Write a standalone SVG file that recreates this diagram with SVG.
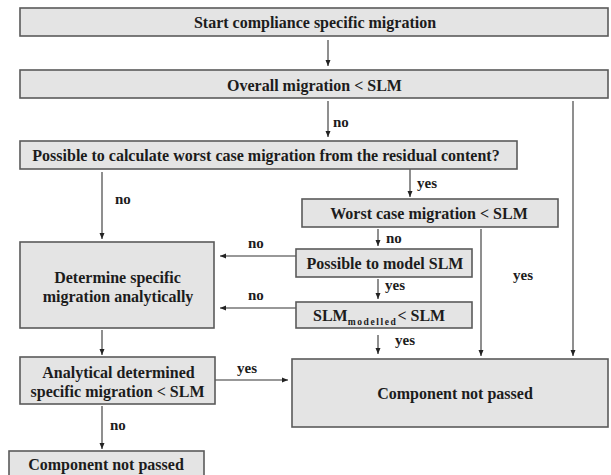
<svg xmlns="http://www.w3.org/2000/svg" width="611" height="475" viewBox="0 0 611 475">
  <style>
    .box { fill: #e4e4e4; stroke: #5a5a5a; stroke-width: 1.6; }
    .t { font-family: 'Liberation Serif', 'DejaVu Serif', serif; font-weight: 700; font-size: 16px; fill: #1c1c1c; text-anchor: middle; }
    .lbl { font-family: 'Liberation Serif', 'DejaVu Serif', serif; font-weight: 700; font-size: 15px; fill: #1c1c1c; }
    .ln { fill: none; stroke: #333; stroke-width: 1.1; }
    .arr { marker-end: url(#head); }
  </style>
  <defs>
    <marker id="head" viewBox="0 0 6 6" refX="6" refY="3" markerWidth="6" markerHeight="6" markerUnits="userSpaceOnUse" orient="auto">
      <path d="M0,0.5 L6,3 L0,5.5 Z" fill="#222"/>
    </marker>
  </defs>
  <rect width="611" height="475" fill="#fff"/>

  <g id="connectors">
    <line class="ln arr" x1="328" y1="40" x2="328" y2="66"/>
    <line class="ln arr" x1="328" y1="101" x2="328" y2="137"/>
    <line class="ln arr" x1="573" y1="101" x2="573" y2="356"/>
    <line class="ln arr" x1="102" y1="172" x2="102" y2="239"/>
    <line class="ln arr" x1="410" y1="169" x2="410" y2="197"/>
    <line class="ln arr" x1="378" y1="229" x2="378" y2="246"/>
    <line class="ln arr" x1="481" y1="229" x2="481" y2="356"/>
    <line class="ln arr" x1="378" y1="279" x2="378" y2="299"/>
    <line class="ln arr" x1="378" y1="335" x2="378" y2="354"/>
    <line class="ln arr" x1="296" y1="256" x2="220" y2="256"/>
    <line class="ln arr" x1="296" y1="308" x2="220" y2="308"/>
    <line class="ln arr" x1="102" y1="330" x2="102" y2="355"/>
    <line class="ln arr" x1="215" y1="380" x2="288" y2="380"/>
    <line class="ln arr" x1="102" y1="406" x2="102" y2="449"/>
    <text class="lbl" x="333" y="127">no</text>
    <text class="lbl" x="115" y="203.5">no</text>
    <text class="lbl" x="417" y="187.5">yes</text>
    <text class="lbl" x="386" y="243">no</text>
    <text class="lbl" x="513" y="280">yes</text>
    <text class="lbl" x="385" y="290">yes</text>
    <text class="lbl" x="395" y="345">yes</text>
    <text class="lbl" x="248" y="248">no</text>
    <text class="lbl" x="248" y="300">no</text>
    <text class="lbl" x="237" y="373">yes</text>
    <text class="lbl" x="110" y="430">no</text>
  </g>

  <g id="start">
    <rect class="box" x="20" y="8" width="588" height="28"/>
    <text class="t" x="315" y="28">Start compliance specific migration</text>
  </g>
  <g id="overall">
    <rect class="box" x="20" y="70" width="588" height="28"/>
    <text class="t" x="314.5" y="90.5">Overall migration &lt; SLM</text>
  </g>
  <g id="worst-case-possible">
    <rect class="box" x="20" y="141" width="497" height="28"/>
    <text class="t" x="266" y="160.5">Possible to calculate worst case migration from the residual content?</text>
  </g>
  <g id="worst-case">
    <rect class="box" x="302" y="199" width="256" height="28"/>
    <text class="t" x="429" y="219">Worst case migration &lt; SLM</text>
  </g>
  <g id="model-possible">
    <rect class="box" x="296" y="249" width="176" height="28"/>
    <text class="t" x="385" y="268.5">Possible to model SLM</text>
  </g>
  <g id="slm-modelled">
    <rect class="box" x="296" y="302" width="176" height="26"/>
    <text class="t" x="313" y="321" style="text-anchor:start">SLM<tspan dy="4" font-size="9.5" letter-spacing="1.6">modelled</tspan><tspan dy="-4">&lt; SLM</tspan></text>
  </g>
  <g id="analytical">
    <rect class="box" x="20" y="242" width="194" height="86"/>
    <text class="t" x="117.5" y="282.5">Determine specific</text>
    <text class="t" x="118" y="301.5">migration analytically</text>
  </g>
  <g id="analytical-check">
    <rect class="box" x="20" y="357" width="195" height="47"/>
    <text class="t" x="118.5" y="377.5">Analytical determined</text>
    <text class="t" x="117.5" y="397">specific migration &lt; SLM</text>
  </g>
  <g id="not-passed-right">
    <rect class="box" x="292" y="359" width="316" height="68"/>
    <text class="t" x="455" y="399">Component not passed</text>
  </g>
  <g id="not-passed-bottom">
    <rect class="box" x="9" y="451" width="195" height="30"/>
    <text class="t" x="106" y="470">Component not passed</text>
  </g>
</svg>
